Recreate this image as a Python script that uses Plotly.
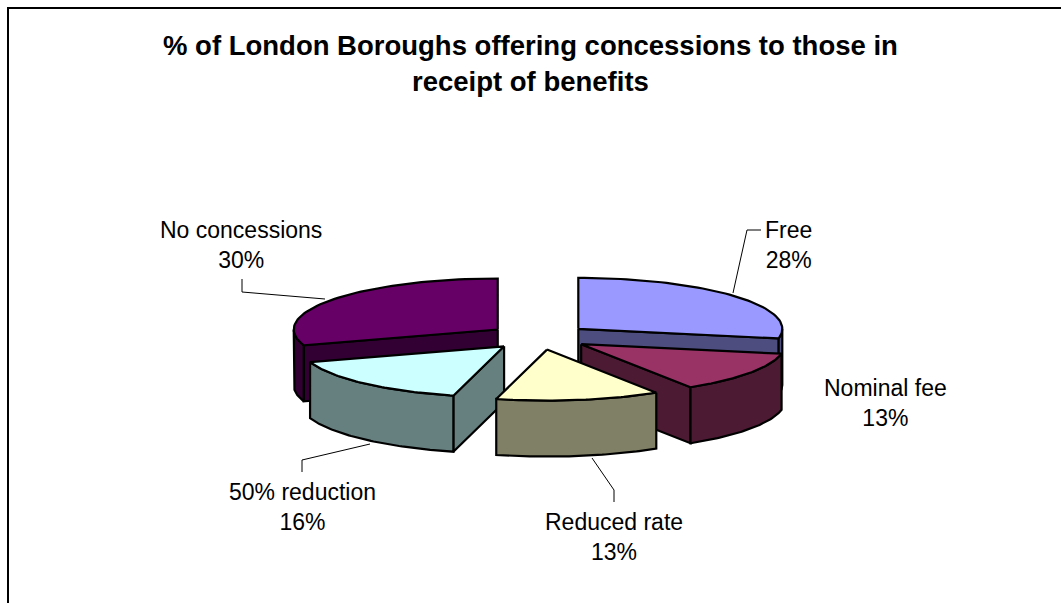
import numpy as np
import plotly.graph_objects as go

# Survey results: share of London boroughs by type of concession
categories = ["Free", "Nominal fee", "Reduced rate", "50% reduction", "No concessions"]
percentages = [28, 13, 13, 16, 30]
top_colors = ["#9999FF", "#993366", "#FFFFCC", "#CCFFFF", "#660066"]
side_colors = ["#4D4D80", "#4D1A33", "#808066", "#668080", "#330033"]

W, H = 1061, 603

# Projected pie geometry (pixel space)
CX, CY = 539, 337      # centre of the un-exploded pie
RX, RY = 204, 51       # ellipse radii of the top face
DEPTH = 56             # visible thickness of the pie
EXPLODE = 0.25         # radial offset of each slice, as a fraction of the radius


def rim(cx, cy, deg):
    t = np.radians(deg)
    return cx + RX * np.sin(t), cy - RY * np.cos(t)


def arc(cx, cy, a0, a1, n=60):
    a = np.linspace(a0, a1, n)
    x, y = rim(cx, cy, a)
    return list(x), list(y)


fig = go.Figure()


def poly(xs, ys, color):
    fig.add_trace(go.Scatter(
        x=xs + [xs[0]], y=ys + [ys[0]], mode="lines", fill="toself",
        fillcolor=color, line=dict(color="black", width=2.2),
        hoverinfo="skip", showlegend=False))


total = sum(percentages)
starts = np.cumsum([0] + percentages[:-1]) / total * 360
ends = np.cumsum(percentages) / total * 360

slices = []
for i in range(len(categories)):
    a0, a1 = starts[i], ends[i]
    mid = np.radians((a0 + a1) / 2)
    cx = CX + EXPLODE * RX * np.sin(mid)
    cy = CY - EXPLODE * RY * np.cos(mid)
    slices.append((i, a0, a1, cx, cy))

# paint from back to front
depth_key = lambda s: -np.cos(np.radians((s[1] + s[2]) / 2))
for i, a0, a1, cx, cy in sorted(slices, key=depth_key):
    # flat radial walls facing the viewer
    for edge, normal in ((a0, a0 - 90), (a1, a1 + 90)):
        if np.cos(np.radians(normal)) < -1e-6:
            ex, ey = rim(cx, cy, edge)
            poly([cx, ex, ex, cx], [cy, ey, ey + DEPTH, cy + DEPTH], side_colors[i])
    # curved outer wall on the front half
    lo, hi = max(a0, 90), min(a1, 270)
    if hi > lo:
        tx, ty = arc(cx, cy, lo, hi)
        poly(tx + tx[::-1], ty + [v + DEPTH for v in ty[::-1]], side_colors[i])
    # top face
    tx, ty = arc(cx, cy, a0, a1)
    poly([cx] + tx, [cy] + ty, top_colors[i])

# leader lines from slices to their labels
leaders = {
    "Free": ([733, 747, 761], [293, 230, 230]),
    "Reduced rate": ([592, 614, 614], [458, 490, 502]),
    "50% reduction": ([370, 302, 302], [444, 460, 472]),
    "No concessions": ([325, 242, 242], [299, 292, 279]),
}
for name, (lx, ly) in leaders.items():
    fig.add_trace(go.Scatter(x=lx, y=ly, mode="lines",
                             line=dict(color="black", width=1),
                             hoverinfo="skip", showlegend=False))

label_pos = {
    "Free": (788, 245),
    "Nominal fee": (885, 403),
    "Reduced rate": (614, 537),
    "50% reduction": (302, 507),
    "No concessions": (241, 245),
}
annotations = []
for name, p in zip(categories, percentages):
    x, y = label_pos[name]
    annotations.append(dict(
        x=x, y=y, xref="x", yref="y", text=f"{name}<br>{p}%",
        showarrow=False, xanchor="center", yanchor="middle", align="center",
        font=dict(family="Arial, Liberation Sans, sans-serif", size=23, color="black")))

annotations.append(dict(
    x=530, y=63, xref="x", yref="y",
    text="<b>% of London Boroughs offering concessions to those in<br>receipt of benefits</b>",
    showarrow=False, xanchor="center", yanchor="middle", align="center",
    font=dict(family="Arial, Liberation Sans, sans-serif", size=27.5, color="black")))

fig.update_layout(
    width=W, height=H, autosize=False,
    margin=dict(l=0, r=0, t=0, b=0),
    paper_bgcolor="white", plot_bgcolor="white",
    xaxis=dict(range=[0, W], visible=False, fixedrange=True),
    yaxis=dict(range=[H, 0], visible=False, fixedrange=True),
    annotations=annotations,
    shapes=[dict(type="rect", xref="x", yref="y", x0=8, y0=8, x1=W + 20, y1=H + 20,
                 line=dict(color="black", width=2), fillcolor="rgba(0,0,0,0)",
                 layer="below")],
)

fig.write_html("out.html", config={"displayModeBar": False})
